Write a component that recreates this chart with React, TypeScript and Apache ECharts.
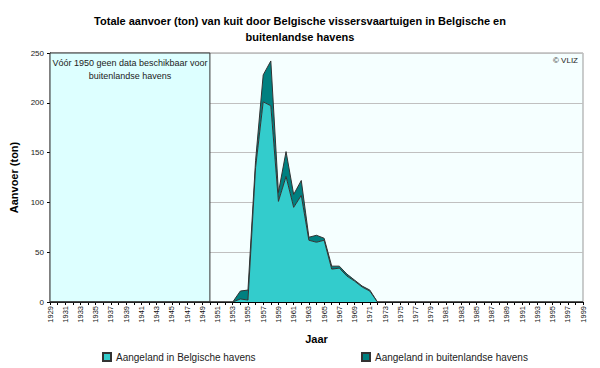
import React, { useEffect, useRef } from "react";
import * as echarts from "echarts";

const years: string[] = [];
for (let y = 1929; y <= 1999; y++) years.push(String(y));

// values per year (ton), 1953..1972
const dataYears = [1953, 1954, 1955, 1956, 1957, 1958, 1959, 1960, 1961, 1962, 1963, 1964, 1965, 1966, 1967, 1968, 1969, 1970, 1971, 1972];
const belgian = [0, 3, 2, 135, 201, 197, 101, 126, 95, 107, 62, 60, 62, 33, 34, 26, 21, 15, 11, 0];
const foreign = [0, 8, 10, 7, 27, 45, 9, 25, 13, 15, 3, 7, 2, 3, 2, 2, 1, 1, 1, 0];

const seriesNames = ["Aangeland in Belgische havens", "Aangeland in buitenlandse havens"];
const yTicks = { min: 0, max: 250, interval: 50 };
const noDataStart = "1929";
const noDataEnd = "1950";

const FONT = "Liberation Sans";

export default function App() {
  const ref = useRef<HTMLDivElement>(null);
  useEffect(() => {
    if (!ref.current) return;
    const chart = echarts.init(ref.current, null, { renderer: "svg" });
    const bel = years.map((y) => {
      const i = dataYears.indexOf(Number(y));
      return i >= 0 ? belgian[i] : 0;
    });
    const frn = years.map((y) => {
      const i = dataYears.indexOf(Number(y));
      return i >= 0 ? foreign[i] : 0;
    });
    chart.setOption({
      animation: false,
      backgroundColor: "#ffffff",
      textStyle: { fontFamily: FONT },
      title: {
        text: "Totale aanvoer (ton) van kuit door Belgische vissersvaartuigen in Belgische en\nbuitenlandse havens",
        left: "center",
        top: 8,
        textStyle: { fontFamily: FONT, fontSize: 11, fontWeight: "bold", color: "#000", lineHeight: 16 },
      },
      grid: {
        left: 50,
        right: 17,
        top: 53,
        bottom: 66,
        show: true,
        backgroundColor: "#F5FFFF",
        borderColor: "#999999",
        borderWidth: 1,
      },
      legend: [
        {
          data: [seriesNames[0]],
          left: 97,
          top: 347,
          icon: "rect",
          itemWidth: 8,
          itemHeight: 8,
          itemGap: 4,
          textStyle: { fontFamily: FONT, fontSize: 10, color: "#222" },
        },
        {
          data: [seriesNames[1]],
          left: 356,
          top: 347,
          icon: "rect",
          itemWidth: 8,
          itemHeight: 8,
          itemGap: 4,
          textStyle: { fontFamily: FONT, fontSize: 10, color: "#222" },
        },
      ],
      xAxis: {
        type: "category",
        data: years,
        boundaryGap: false,
        name: "Jaar",
        nameLocation: "middle",
        nameGap: 31,
        nameTextStyle: { fontFamily: FONT, fontSize: 11, fontWeight: "bold", color: "#000" },
        axisLine: { lineStyle: { color: "#000", width: 1 } },
        axisTick: { show: true, interval: 0, length: 3, lineStyle: { color: "#000" } },
        axisLabel: {
          interval: 1,
          rotate: 90,
          fontSize: 7.5,
          color: "#111",
          margin: 4,
        },
        splitLine: { show: false },
      },
      yAxis: {
        type: "value",
        min: yTicks.min,
        max: yTicks.max,
        interval: yTicks.interval,
        name: "Aanvoer (ton)",
        nameLocation: "middle",
        nameGap: 22,
        nameTextStyle: { fontFamily: FONT, fontSize: 11, fontWeight: "bold", color: "#000" },
        axisLine: { show: true, lineStyle: { color: "#000", width: 1 } },
        axisTick: { show: true, length: 3, lineStyle: { color: "#000" } },
        axisLabel: { fontSize: 8, color: "#222", margin: 6 },
        splitLine: { show: true, lineStyle: { color: "#C0C0C0", width: 1 } },
      },
      graphic: [
        {
          type: "text",
          right: 22,
          top: 56,
          style: { text: "© VLIZ", fontFamily: FONT, fontSize: 8, fill: "#222" },
        },
      ],
      series: [
        {
          name: seriesNames[0],
          type: "line",
          stack: "total",
          data: bel,
          symbol: "none",
          lineStyle: { color: "#333", width: 1 },
          areaStyle: { color: "#33CCCC", opacity: 1 },
          itemStyle: { color: "#33CCCC", borderColor: "#333", borderWidth: 1 },
          markArea: {
            silent: true,
            itemStyle: { color: "#DDFFFF", borderColor: "#333", borderWidth: 1 },
            label: {
              show: true,
              position: "insideTop",
              distance: 4,
              fontFamily: FONT,
              fontSize: 9,
              color: "#222",
              lineHeight: 13,
              align: "center",
            },
            data: [
              [
                { xAxis: noDataStart, yAxis: yTicks.max, name: "Vóór 1950 geen data beschikbaar voor\nbuitenlandse havens" },
                { xAxis: noDataEnd, yAxis: yTicks.min },
              ],
            ],
          },
          z: 3,
        },
        {
          name: seriesNames[1],
          type: "line",
          stack: "total",
          data: frn,
          symbol: "none",
          lineStyle: { color: "#333", width: 1 },
          areaStyle: { color: "#008080", opacity: 1 },
          itemStyle: { color: "#008080", borderColor: "#333", borderWidth: 1 },
          z: 2,
        },
      ],
    });
    return () => chart.dispose();
  }, []);
  return <div ref={ref} style={{ width: 600, height: 368, position: "fixed", left: 0, top: 0 }} />;
}
